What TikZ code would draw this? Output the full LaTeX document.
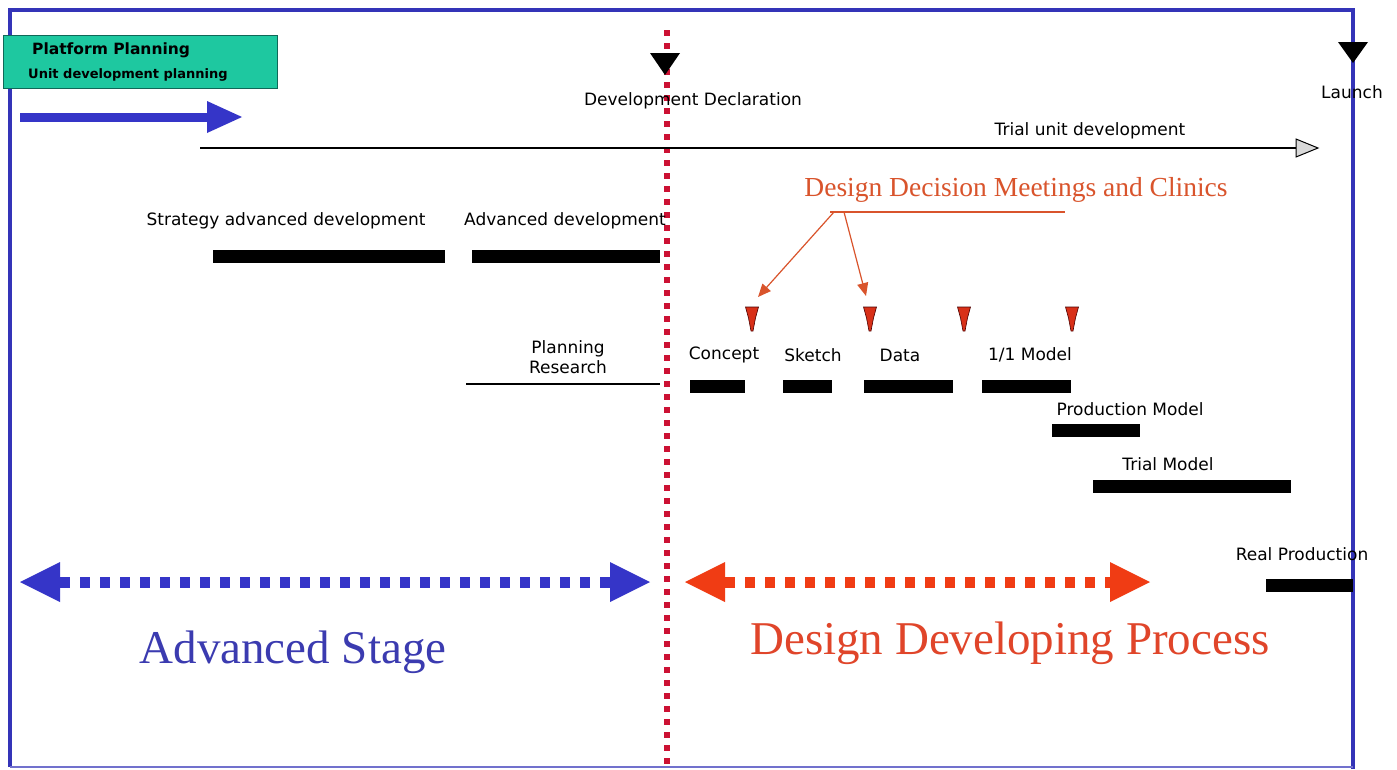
\documentclass[tikz,border=0pt]{standalone}
\usepackage{fontspec}
\setmainfont{Liberation Serif}
\setsansfont{DejaVu Sans}
\usetikzlibrary{arrows.meta}
\definecolor{frameblue}{HTML}{3434B8}
\definecolor{arrowblue}{HTML}{3535C8}
\definecolor{teal}{HTML}{1EC8A0}
\definecolor{tealdark}{HTML}{106858}
\definecolor{dotred}{HTML}{CC1133}
\definecolor{ddorange}{HTML}{D9542C}
\definecolor{procred}{HTML}{E0452A}
\definecolor{arrowred}{HTML}{F03C14}
\definecolor{stageblue}{HTML}{3B3BB0}
\definecolor{pinred}{HTML}{D83018}
\begin{document}
\begin{tikzpicture}[x=1pt,y=-1pt,
  lbl/.style={font=\sffamily\fontsize{17}{19}\selectfont, inner sep=0pt},
  bar/.style={fill=black, inner sep=0pt, minimum height=13pt},
  pin/.style={fill=pinred, draw=black!70!red, line width=0.6pt},
  ddarrow/.style={draw=ddorange, line width=1.2pt, -{Triangle[length=13pt,width=11pt]}},
  tri/.style={fill=black}
]
\useasboundingbox (0,0) rectangle (1397,769);
\fill[white] (0,0) rectangle (1397,769);

% frame
\draw[frameblue, line width=3.5pt] (10,767) -- (10,10) -- (1353,10) -- (1353,769);
\draw[frameblue!70, line width=1.5pt] (10,767) -- (1353,767);

% red dotted vertical
\coordinate (vtop) at (667,30);
\coordinate (vbot) at (667,769);
\draw[dotred, line width=6pt, dash pattern=on 6pt off 7pt] (vtop) -- (vbot);

% platform planning box
\node[draw=tealdark, fill=teal, line width=1pt, minimum width=274pt, minimum height=53pt, inner sep=0pt] (pp) at (140,61.5) {};
\node[font=\sffamily\bfseries\fontsize{15.5}{17}\selectfont, anchor=west, inner sep=0pt] (pp1) at (32,50) {Platform Planning};
\node[font=\sffamily\bfseries\fontsize{13}{15}\selectfont, anchor=west, inner sep=0pt] (pp2) at (28,75) {Unit development planning};

% blue arrow at top left
\coordinate (ba0) at (20,117);
\coordinate (ba1) at (208,117);
\draw[arrowblue, line width=9pt] (ba0) -- (ba1);
\fill[arrowblue] (207,101) -- (242,117) -- (207,133) -- cycle;

% development declaration
\fill[tri] (650,53) -- (680,53) -- (665,75) -- cycle;
\node[lbl] (devdec) at (693,101) {Development Declaration};

% launch
\fill[tri] (1338,42) -- (1368,42) -- (1353,63) -- cycle;
\node[lbl] (launch) at (1352,92) {Launch};

% trial unit development
\coordinate (tu0) at (200,148);
\coordinate (tu1) at (1296,148);
\draw[line width=1.5pt] (tu0) -- (tu1);
\draw[fill=gray!30, line width=1pt] (1296,139) -- (1318,148) -- (1296,157) -- cycle;
\node[lbl] (tud) at (1090,131) {Trial unit development};

% advanced development
\node[lbl] (sad) at (286,221) {Strategy advanced development};
\node[bar, minimum width=232pt] (bsad) at (329,256) {};
\node[lbl] (ad) at (565,221) {Advanced development};
\node[bar, minimum width=188pt] (bad) at (566,256) {};

% design decision meetings
\node[font=\fontsize{27.5}{29}\selectfont, text=ddorange, inner sep=0pt] (ddm) at (1016,190) {Design Decision Meetings and Clinics};
\coordinate (ul0) at (830,212);
\coordinate (ul1) at (1065,212);
\draw[ddorange, line width=1.2pt] (ul0) -- (ul1);
\coordinate (da) at (834,212);
\coordinate (db) at (844,212);
\coordinate (t1) at (758,297);
\coordinate (t2) at (866,296);
\draw[ddarrow] (da) -- (t1);
\draw[ddarrow] (db) -- (t2);

% pins
\foreach \x/\n in {752/m1,870/m2,964/m3,1072/m4}{
  \coordinate (\n) at (\x,307);
  \filldraw[pin] (\n) ++(-6.5,0) -- ++(13,0) -- ++(-3,11) -- ++(-2.5,13) -- ++(-2,0) -- ++(-2.5,-13) -- cycle;
}

% stage labels
\node[lbl] (concept) at (724,355) {Concept};
\node[lbl] (sketch) at (813,355) {Sketch};
\node[lbl] (data) at (900,355) {Data};
\node[lbl] (model11) at (1030,355) {1/1 Model};
\node[bar, minimum width=55pt] (bc) at (717.5,386) {};
\node[bar, minimum width=49pt] (bs) at (807.5,386) {};
\node[bar, minimum width=89pt] (bd) at (908.5,386) {};
\node[bar, minimum width=89pt] (bm) at (1026.5,386) {};

% planning research
\node[lbl, align=center] (pr) at (568,357) {Planning\\[1pt]Research};
\coordinate (pr0) at (466,384);
\coordinate (pr1) at (660,384);
\draw[line width=1.2pt] (pr0) -- (pr1);

% production model
\node[lbl] (prodm) at (1130,409) {Production Model};
\node[bar, minimum width=88pt] (bpm) at (1096,430) {};
\node[lbl] (trialm) at (1168,464) {Trial Model};
\node[bar, minimum width=198pt] (btm) at (1192,486) {};
\node[lbl] (realp) at (1302,554) {Real Production};
\node[bar, minimum width=87pt] (brp) at (1309.5,585) {};

% blue dotted double arrow
\coordinate (bl0) at (60,582);
\coordinate (bl1) at (610,582);
\draw[arrowblue, line width=11pt, dash pattern=on 10pt off 10pt] (bl0) -- (bl1);
\fill[arrowblue] (60,562) -- (20,582) -- (60,602) -- cycle;
\fill[arrowblue] (610,562) -- (650,582) -- (610,602) -- cycle;

% red dotted double arrow
\coordinate (rl0) at (725,582);
\coordinate (rl1) at (1110,582);
\draw[arrowred, line width=11pt, dash pattern=on 10pt off 10pt] (rl0) -- (rl1);
\fill[arrowred] (725,562) -- (685,582) -- (725,602) -- cycle;
\fill[arrowred] (1110,562) -- (1150,582) -- (1110,602) -- cycle;

% big labels
\node[font=\fontsize{47}{50}\selectfont, text=stageblue, inner sep=0pt] (as) at (293,652) {Advanced Stage};
\node[font=\fontsize{47}{50}\selectfont, text=procred, inner sep=0pt] (ddp) at (1010,643) {Design Developing Process};
\end{tikzpicture}
\end{document}
